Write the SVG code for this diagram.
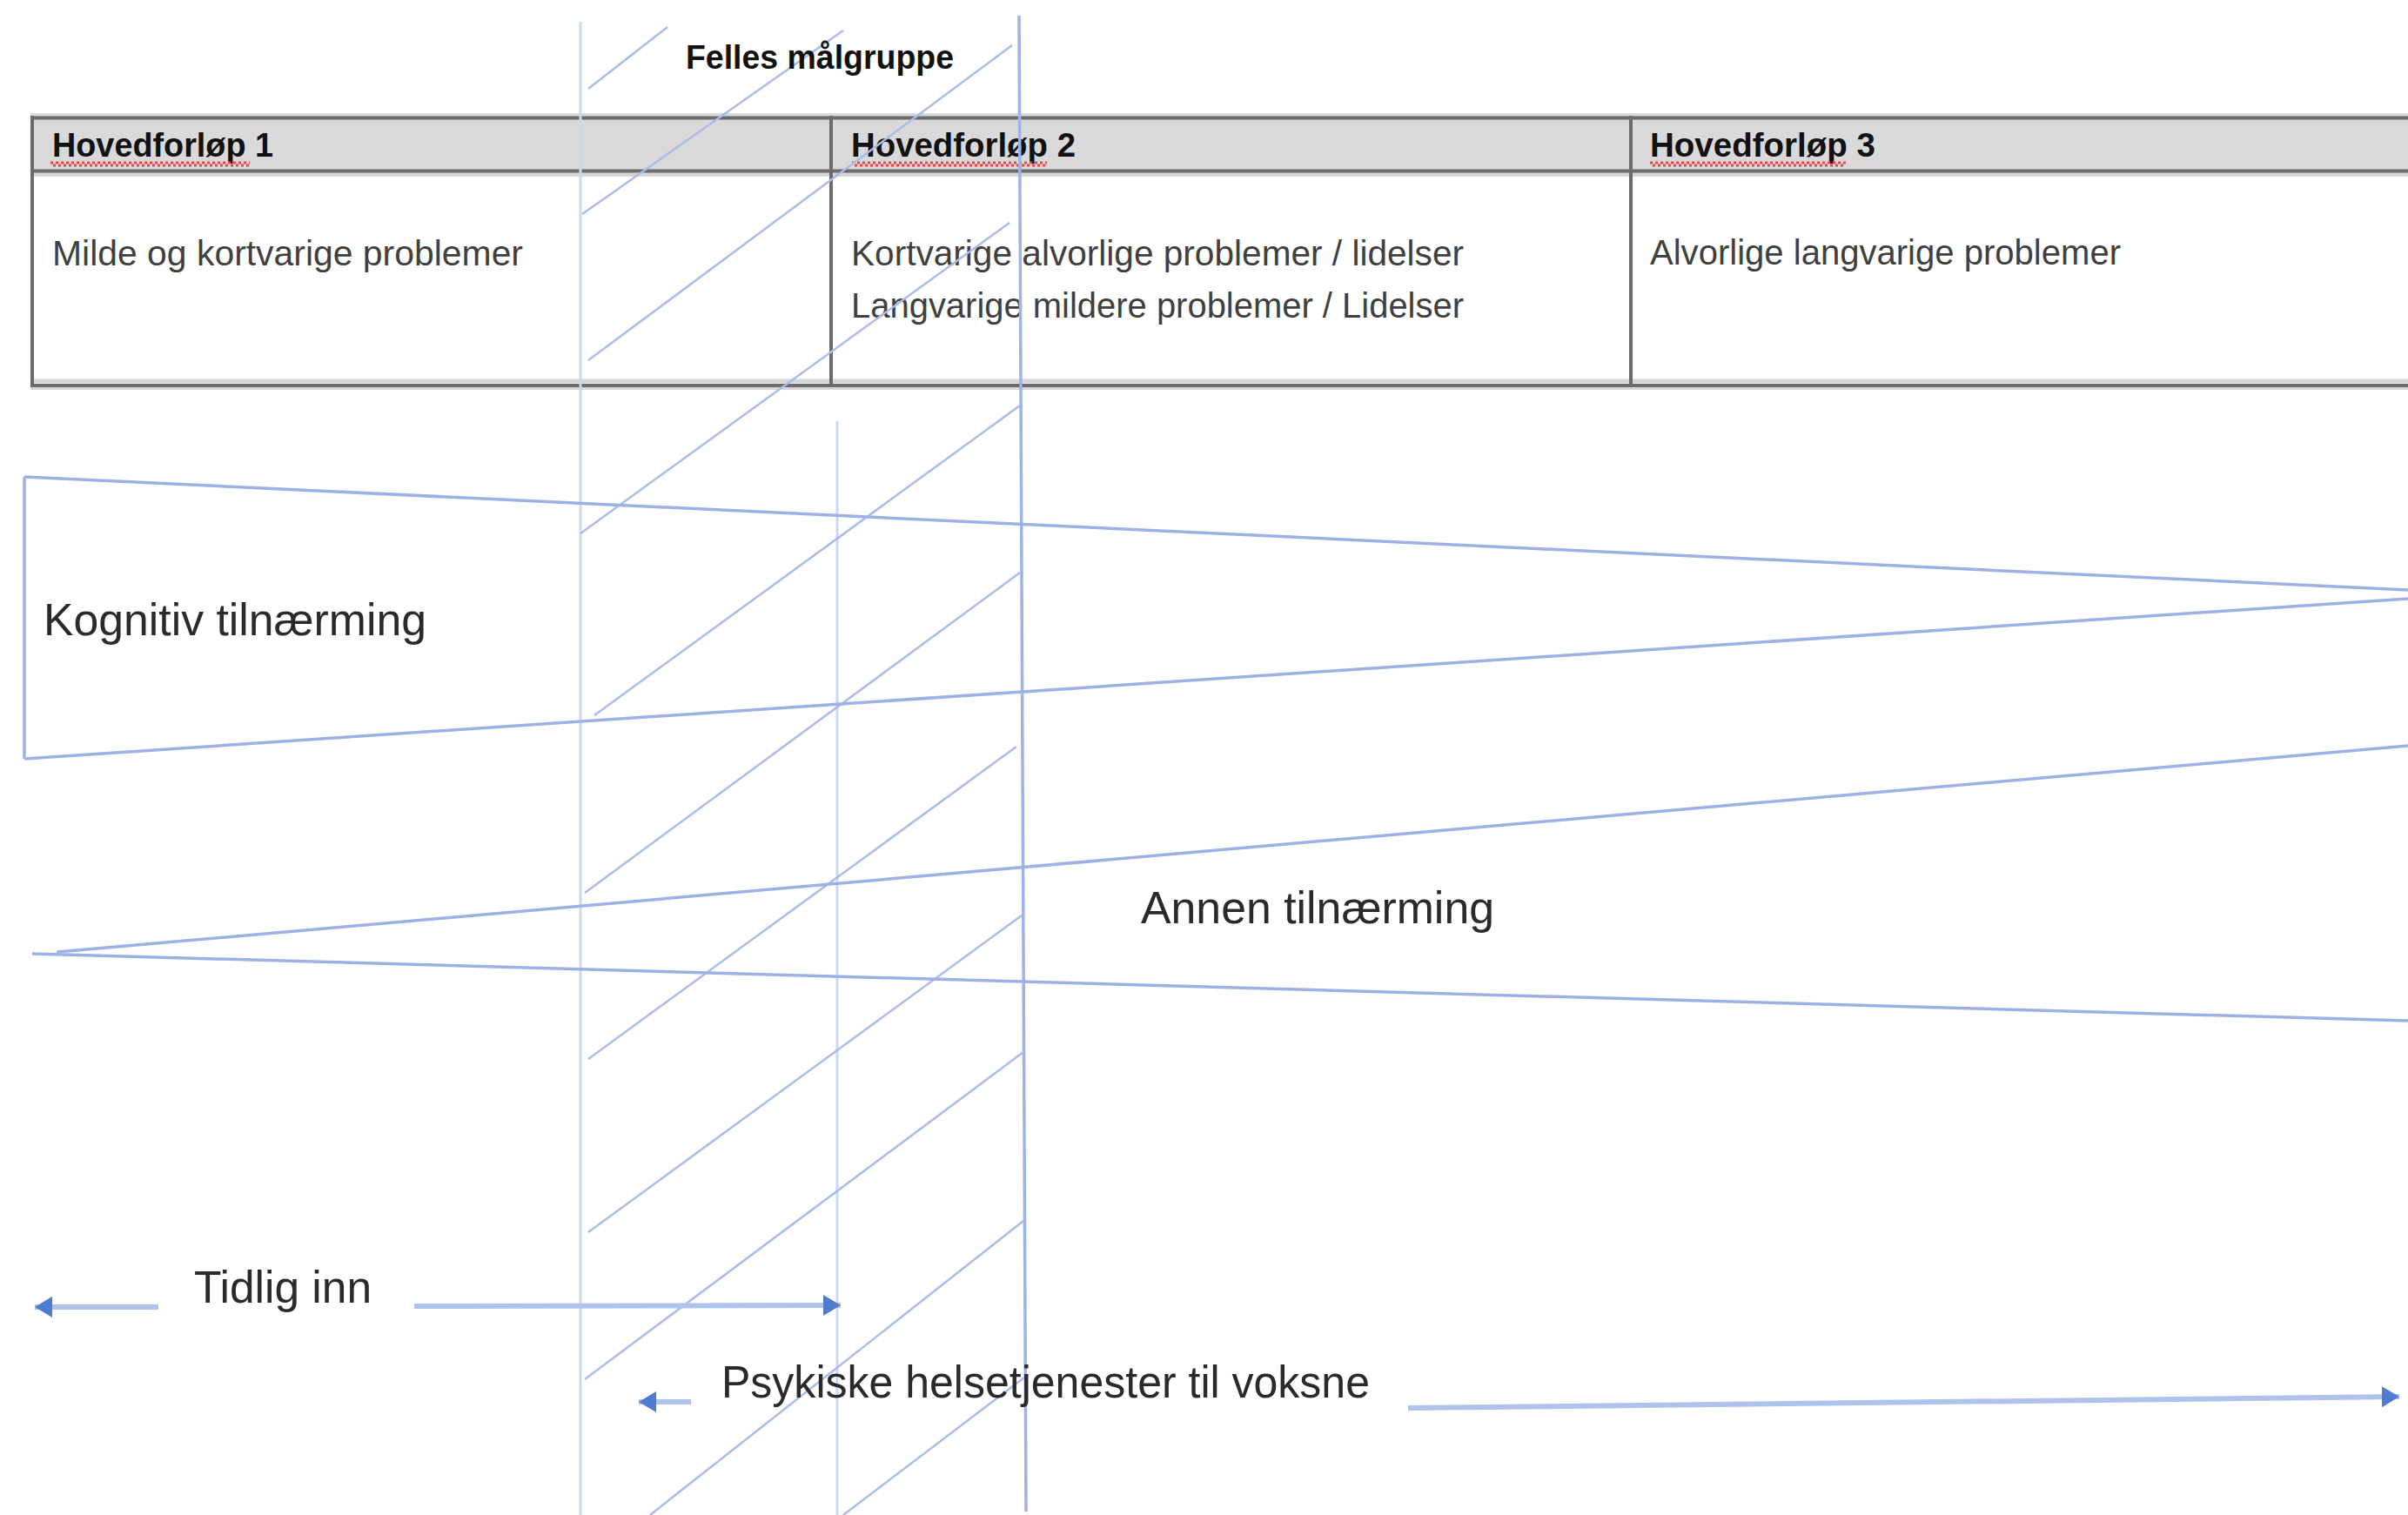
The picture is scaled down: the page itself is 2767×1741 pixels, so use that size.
<svg xmlns="http://www.w3.org/2000/svg" width="2767" height="1741" viewBox="0 0 2767 1741">
  <style>
    .hdr { font-family: "Liberation Sans", Arial, sans-serif; font-weight: bold; font-size: 38px; fill: #111; }
    .body { font-family: "Liberation Sans", Arial, sans-serif; font-size: 41px; fill: #404040; }
    .big { font-family: "Liberation Sans", Arial, sans-serif; font-size: 52px; fill: #2a2a2a; }
    .rule { stroke: #6b6b6b; stroke-width: 4; fill: none; }
    .halo { stroke: #d6d6d6; fill: none; }
    .spell { stroke: #e8474c; stroke-width: 3; stroke-dasharray: 3 3; fill: none; }
    .vline { stroke: #cbd7f1; stroke-width: 3; fill: none; }
    .vmain { stroke: #9db3e6; stroke-width: 3.5; fill: none; }
    .hatch { stroke: #a9bce9; stroke-width: 2.5; fill: none; }
    .wedge { stroke: #9cb2e5; stroke-width: 3.5; fill: none; }
    .arrow { stroke: #b0c2eb; stroke-width: 6; fill: none; marker-end: url(#ah); }
  </style>
  <defs>
    <marker id="ah" markerUnits="userSpaceOnUse" markerWidth="22" markerHeight="26" refX="20" refY="13" orient="auto">
      <path d="M0,1 L20,13 L0,25 Z" fill="#4f7bd0"/>
    </marker>
  </defs>
  <rect x="0" y="0" width="2767" height="1741" fill="#ffffff"/>

  <!-- table header band and frame -->
  <g id="table-frame">
    <rect x="35" y="130" width="2732" height="72" fill="#d9d9d9"/>
    <line class="halo" x1="35" y1="200" x2="2767" y2="200" stroke-width="6" stroke="#ececec"/>
    <line class="halo" x1="35" y1="438" x2="2767" y2="438" stroke-width="5"/>
    <line class="halo" x1="35" y1="446" x2="2767" y2="446" stroke-width="4" stroke="#e2e2e2"/>
    <line class="rule" x1="35" y1="135.5" x2="2767" y2="135.5" stroke-width="4.5"/>
    <line class="rule" x1="35" y1="196.5" x2="2767" y2="196.5" stroke-width="4"/>
    <line class="rule" x1="35" y1="443" x2="2767" y2="443" stroke-width="4"/>
    <line class="rule" x1="37" y1="133" x2="37" y2="445" stroke-width="3.5" stroke="#555"/>
    <line class="rule" x1="955" y1="133" x2="955" y2="445" stroke-width="4" stroke="#555"/>
    <line class="rule" x1="1874" y1="133" x2="1874" y2="445" stroke-width="4" stroke="#555"/>
  </g>

  <g id="hovedforlop-1">
    <text class="hdr" x="60" y="180" textLength="254" lengthAdjust="spacingAndGlyphs">Hovedforløp 1</text>
    <line class="spell" x1="58" y1="187" x2="287" y2="187"/>
    <line class="spell" x1="61" y1="190" x2="287" y2="190"/>
    <text class="body" x="60" y="305" textLength="541" lengthAdjust="spacingAndGlyphs">Milde og kortvarige problemer</text>
  </g>

  <g id="hovedforlop-2">
    <text class="hdr" x="978" y="180" textLength="258" lengthAdjust="spacingAndGlyphs">Hovedforløp 2</text>
    <line class="spell" x1="979" y1="187" x2="1203" y2="187"/>
    <line class="spell" x1="982" y1="190" x2="1203" y2="190"/>
    <text class="body" x="978" y="305" textLength="704" lengthAdjust="spacingAndGlyphs">Kortvarige alvorlige problemer / lidelser</text>
    <text class="body" x="978" y="365" textLength="704" lengthAdjust="spacingAndGlyphs">Langvarige mildere problemer / Lidelser</text>
  </g>

  <g id="hovedforlop-3">
    <text class="hdr" x="1896" y="180" textLength="259" lengthAdjust="spacingAndGlyphs">Hovedforløp 3</text>
    <line class="spell" x1="1896" y1="187" x2="2121" y2="187"/>
    <line class="spell" x1="1899" y1="190" x2="2121" y2="190"/>
    <text class="body" x="1896" y="304" textLength="541" lengthAdjust="spacingAndGlyphs">Alvorlige langvarige problemer</text>
  </g>

  <!-- shared target group band: hatching and boundaries -->
  <g id="felles-malgruppe">
    <line class="vline" x1="667" y1="25" x2="667" y2="1741"/>
    <line class="vline" x1="962" y1="484" x2="962" y2="1741"/>
    <line class="vmain" x1="1171" y1="18" x2="1179" y2="1737"/>
    <line class="hatch" x1="676" y1="102" x2="767" y2="31"/>
    <line class="hatch" x1="669" y1="246" x2="969" y2="35"/>
    <line class="hatch" x1="676" y1="414" x2="1163" y2="52"/>
    <line class="hatch" x1="667" y1="613" x2="1160" y2="256"/>
    <line class="hatch" x1="683" y1="822" x2="1172" y2="466"/>
    <line class="hatch" x1="672" y1="1026" x2="1172" y2="658"/>
    <line class="hatch" x1="676" y1="1217" x2="1168" y2="858"/>
    <line class="hatch" x1="676" y1="1416" x2="1174" y2="1052"/>
    <line class="hatch" x1="672" y1="1585" x2="1176" y2="1209"/>
    <line class="hatch" x1="747" y1="1741" x2="1176" y2="1403"/>
    <line class="hatch" x1="969" y1="1741" x2="1177" y2="1583"/>
    <text class="hdr" x="788" y="79" textLength="308" lengthAdjust="spacingAndGlyphs">Felles målgruppe</text>
  </g>

  <g id="kognitiv-tilnaerming">
    <line class="wedge" x1="28" y1="548" x2="28" y2="872" stroke-width="2.5"/>
    <line class="wedge" x1="28" y1="548" x2="2767" y2="678"/>
    <line class="wedge" x1="28" y1="872" x2="2767" y2="688"/>
    <text class="big" x="50" y="730" textLength="440" lengthAdjust="spacingAndGlyphs">Kognitiv tilnærming</text>
  </g>

  <g id="annen-tilnaerming">
    <line class="wedge" x1="65" y1="1094" x2="2767" y2="857"/>
    <line class="wedge" x1="37" y1="1096" x2="2767" y2="1173"/>
    <text class="big" x="1311" y="1061" textLength="406" lengthAdjust="spacingAndGlyphs">Annen tilnærming</text>
  </g>

  <g id="tidlig-inn">
    <text class="big" x="223" y="1497" textLength="204" lengthAdjust="spacingAndGlyphs">Tidlig inn</text>
  </g>

  <g id="psykiske-helsetjenester">
    <text class="big" x="829" y="1606" textLength="745" lengthAdjust="spacingAndGlyphs">Psykiske helsetjenester til voksne</text>
  </g>

  <g id="connectors">
    <line class="arrow" x1="182" y1="1502" x2="40" y2="1502"/>
    <line class="arrow" x1="476" y1="1501" x2="966" y2="1500"/>
    <line class="arrow" x1="794" y1="1611" x2="734" y2="1611"/>
    <line class="arrow" x1="1618" y1="1618" x2="2757" y2="1605"/>
  </g>
</svg>
